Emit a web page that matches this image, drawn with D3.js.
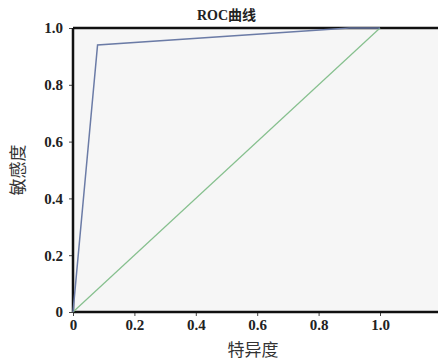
<!DOCTYPE html>
<html>
<head>
<meta charset="utf-8">
<script src="https://cdn.jsdelivr.net/npm/d3@7"></script>
<style>
  body { margin: 0; background: #fff; }
</style>
</head>
<body>
<div id="chart"></div>
<script>
var svgWidth = 438;
var svgHeight = 362;

// ROC points (1 - specificity, sensitivity)
var rocX = [0, 0.08, 0.9, 1.0];
var rocY = [0, 0.94, 1.0, 1.0];
var refX = [0, 1];
var refY = [0, 1];
var ticks = [0, 0.2, 0.4, 0.6, 0.8, 1.0];
var title = "ROC曲线";
var xTitle = "特异度";
var yTitle = "敏感度";

var margin = { top: 28, right: 0, bottom: 50, left: 73 };
var height = svgHeight - margin.top - margin.bottom;

var svg = d3.select("#chart")
  .append("svg")
  .attr("width", svgWidth)
  .attr("height", svgHeight);

var chartGroup = svg.append("g")
  .attr("transform", `translate(${margin.left}, ${margin.top})`);

var x = d3.scaleLinear().domain([0, 1]).range([0, 307]);
var y = d3.scaleLinear().domain([0, 1]).range([height, 0]);
var plotW = svgWidth - margin.left;

// background
chartGroup.append("rect")
  .attr("width", plotW)
  .attr("height", height)
  .attr("fill", "#f6f6f6");

var fmt = d => d === 0 ? "0" : d3.format(".1f")(d);

var xAxis = chartGroup.append("g")
  .attr("transform", `translate(0, ${height})`)
  .call(d3.axisBottom(x).tickValues(ticks).tickFormat(fmt).tickSize(4).tickPadding(3));
xAxis.select(".domain").remove();

var yAxis = chartGroup.append("g")
  .call(d3.axisLeft(y).tickValues(ticks).tickFormat(fmt).tickSize(4).tickPadding(6));
yAxis.select(".domain").remove();

chartGroup.selectAll(".tick text")
  .attr("font-family", "'Liberation Serif', 'DejaVu Serif', serif")
  .attr("font-size", "15px")
  .attr("font-weight", "bold")
  .attr("fill", "#222");
chartGroup.selectAll(".tick line").attr("stroke", "#444");

// axis lines
chartGroup.append("line").attr("x1", 0).attr("x2", plotW).attr("y1", height).attr("y2", height)
  .attr("stroke", "#111").attr("stroke-width", 2.5);
chartGroup.append("line").attr("x1", 0).attr("x2", plotW).attr("y1", 0).attr("y2", 0)
  .attr("stroke", "#111").attr("stroke-width", 2.5);
chartGroup.append("line").attr("x1", 0).attr("x2", 0).attr("y1", 0).attr("y2", height)
  .attr("stroke", "#111").attr("stroke-width", 2.5);

var line = d3.line().x(d => x(d[0])).y(d => y(d[1]));

chartGroup.append("path")
  .datum(d3.zip(refX, refY))
  .attr("d", line)
  .attr("fill", "none")
  .attr("stroke", "#86c08e")
  .attr("stroke-width", 1.2);

chartGroup.append("path")
  .datum(d3.zip(rocX, rocY))
  .attr("d", line)
  .attr("fill", "none")
  .attr("stroke", "#6b7ba6")
  .attr("stroke-width", 1.5);

// titles
svg.append("text")
  .attr("x", margin.left + x(0.5))
  .attr("y", 20)
  .attr("text-anchor", "middle")
  .attr("font-family", "'Liberation Serif', 'Noto Sans CJK SC', serif")
  .attr("font-size", "14px")
  .attr("font-weight", "bold")
  .attr("fill", "#222")
  .text(title);

svg.append("text")
  .attr("x", 253)
  .attr("y", 356)
  .attr("text-anchor", "middle")
  .attr("font-family", "'Noto Sans CJK SC', sans-serif")
  .attr("font-size", "17px")
  .attr("fill", "#333")
  .text(xTitle);

svg.append("text")
  .attr("transform", `translate(24, ${margin.top + height / 2}) rotate(-90)`)
  .attr("text-anchor", "middle")
  .attr("font-family", "'Noto Sans CJK SC', sans-serif")
  .attr("font-size", "17px")
  .attr("fill", "#333")
  .text(yTitle);
</script>
</body>
</html>
